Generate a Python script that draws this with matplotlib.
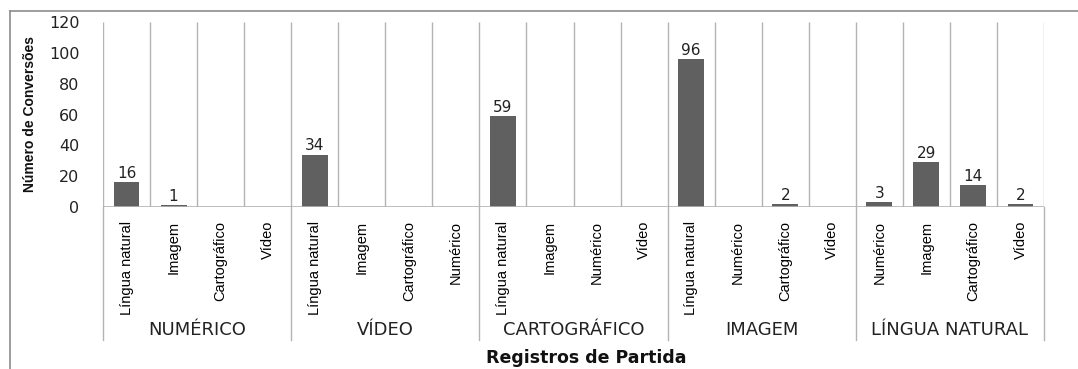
import matplotlib
matplotlib.use("Agg")
import matplotlib.pyplot as plt
from matplotlib.lines import Line2D
import matplotlib.transforms as mtransforms

groups = ["NUMÉRICO", "VÍDEO", "CARTOGRÁFICO", "IMAGEM", "LÍNGUA NATURAL"]
subcats = [
    ["Língua natural", "Imagem", "Cartográfico", "Vídeo"],
    ["Língua natural", "Imagem", "Cartográfico", "Numérico"],
    ["Língua natural", "Imagem", "Numérico", "Vídeo"],
    ["Língua natural", "Numérico", "Cartográfico", "Vídeo"],
    ["Numérico", "Imagem", "Cartográfico", "Vídeo"],
]
values = [
    [16, 1, 0, 0],
    [34, 0, 0, 0],
    [59, 0, 0, 0],
    [96, 0, 2, 0],
    [3, 29, 14, 2],
]

narrow = ["Liberation Sans Narrow", "Liberation Sans", "DejaVu Sans"]
grid_c = "#b3b3b3"
bar_c = "#606060"

W, H = 1078, 369
fig = plt.figure(figsize=(W / 100, H / 100), dpi=100)
ax = fig.add_axes([103 / W, (H - 207) / H, (1044 - 103) / W, (207 - 22) / H])

labels = [s for g in subcats for s in g]
vals = [v for g in values for v in g]
n = len(vals)
x = list(range(n))

ax.bar(x, vals, width=0.55, color=bar_c, zorder=3)
for xi, v in zip(x, vals):
    if v:
        ax.text(xi, v + 0.8, str(v), ha="center", va="bottom", fontsize=11, color="#222222")

ax.set_xlim(-0.5, n - 0.5)
ax.set_ylim(0, 120)
ax.vlines([i - 0.5 for i in range(n + 1)], 0, 120, color=grid_c, lw=1, zorder=1)
ax.axhline(0, color=grid_c, lw=1.2, zorder=4)

for s in ax.spines.values():
    s.set_visible(False)

ax.set_yticks(range(0, 121, 20))
ax.tick_params(axis="y", length=0, labelsize=11.5, pad=17, labelcolor="#222222")
ax.set_xticks(x)
ax.set_xticklabels(labels, rotation=90, fontsize=10.5, family=narrow, va="top")
ax.tick_params(axis="x", length=0, pad=10)

# group separators below the axis
trans = mtransforms.blended_transform_factory(ax.transData, ax.transAxes)
sep_bottom = -(340 - 207) / (207 - 22)
for k in range(len(groups) + 1):
    ax.add_line(Line2D([4 * k - 0.5] * 2, [0, sep_bottom], transform=trans,
                       color=grid_c, lw=1, clip_on=False))
for k, g in enumerate(groups):
    ax.text(4 * k + 1.5, -(330 - 207) / (207 - 22), g, transform=trans,
            ha="center", va="center", fontsize=13, color="#222222")

fig.text(586 / W, 1 - 358 / H, "Registros de Partida", ha="center", va="center",
         fontsize=12.5, fontweight="bold", color="#111111")
fig.text(30 / W, 1 - 114 / H, "Número de Conversões", rotation=90, ha="center",
         va="center", fontsize=10, fontweight="bold", family=narrow, color="#111111")

# outer frame
fig.add_artist(Line2D([10 / W, 10 / W], [0, 1 - 11 / H], color="#8c8c8c", lw=1.2))
fig.add_artist(Line2D([10 / W, 1], [1 - 11 / H, 1 - 11 / H], color="#8c8c8c", lw=1.2))

fig.savefig("out.png", dpi=100)
